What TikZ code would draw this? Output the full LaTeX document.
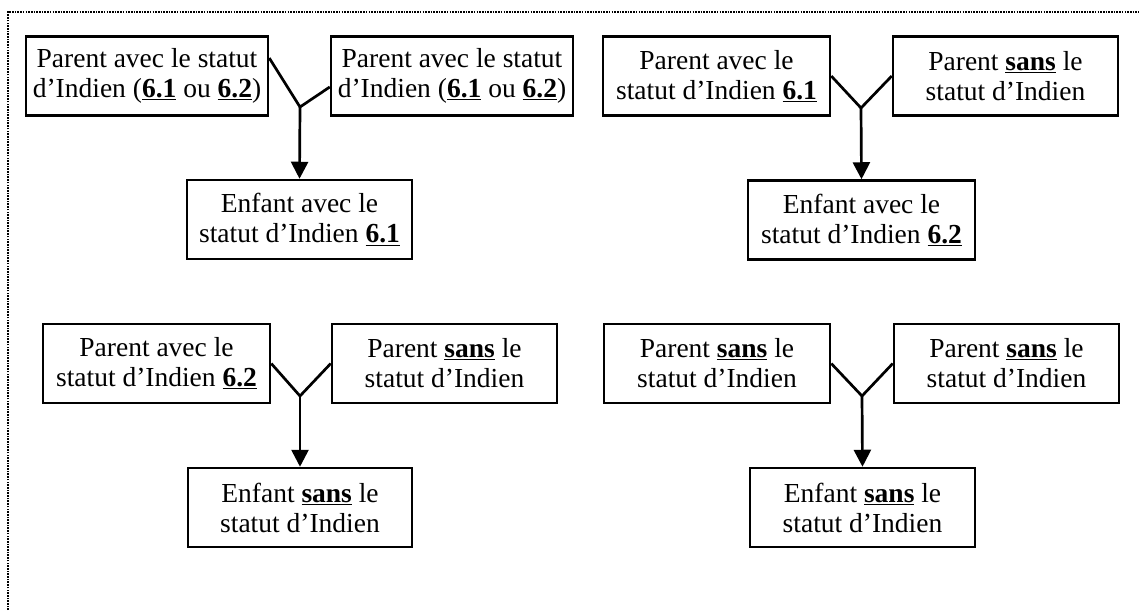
\documentclass[tikz,border=0pt]{standalone}
\usepackage{fontspec}
\setmainfont{Liberation Serif}
\usetikzlibrary{arrows.meta}
\newcommand{\ubold}[1]{\underline{\textbf{#1}}}
\begin{document}
\begin{tikzpicture}[x=1pt,y=-1pt,
  box/.style={draw, line width=2.5pt, inner sep=0pt, align=center,
    font=\fontsize{27.5}{30}\selectfont, minimum height=79pt},
  fork/.style={line width=2.7pt},
  descent/.style={line width=2.7pt, -{Triangle[length=17pt,width=17pt]}},
  frame/.style={line width=2.6pt, dash pattern=on 1.6pt off 1.1pt}]
\useasboundingbox (0,0) rectangle (1139,610);

% dotted frame (top and left edges)
\draw[frame] (8,610) -- (8,12) -- (1139,12);

% --- group A ---
\node[box, minimum width=242pt] (a1) at (147,76)
  {Parent avec le statut\\d’Indien (\ubold{6.1} ou \ubold{6.2})};
\node[box, minimum width=242pt] (a2) at (452,76)
  {Parent avec le statut\\d’Indien (\ubold{6.1} ou \ubold{6.2})};
\node[box, minimum width=225pt] (a3) at (299.5,219.5)
  {Enfant avec le\\statut d’Indien \ubold{6.1}};
\coordinate (ja) at (300,107);
\draw[fork] ([yshift=18pt]a1.east) -- (ja) -- ([yshift=-11pt]a2.west);
\draw[descent] (ja) -- (a3.north);

% --- group B ---
\node[box, minimum width=227pt] (b1) at (716.5,76)
  {Parent avec le\\statut d’Indien \ubold{6.1}};
\node[box, minimum width=225pt] (b2) at (1005.5,76)
  {Parent \ubold{sans} le\\statut d’Indien};
\node[box, minimum width=227pt] (b3) at (861.5,220)
  {Enfant avec le\\statut d’Indien \ubold{6.2}};
\coordinate (jb) at (861,108);
\draw[fork] (b1.east) -- (jb) -- (b2.west);
\draw[descent] (jb) -- (b3.north);

% --- group C ---
\node[box, minimum width=227pt] (c1) at (156.5,363.5)
  {Parent avec le\\statut d’Indien \ubold{6.2}};
\node[box, minimum width=225pt] (c2) at (444.5,363.5)
  {Parent \ubold{sans} le\\statut d’Indien};
\node[box, minimum width=224pt] (c3) at (300,507.5)
  {Enfant \ubold{sans} le\\statut d’Indien};
\coordinate (jc) at (300,396);
\draw[fork] (c1.east) -- (jc) -- (c2.west);
\draw[descent] (jc) -- (c3.north);

% --- group D ---
\node[box, minimum width=226pt] (d1) at (717,363.5)
  {Parent \ubold{sans} le\\statut d’Indien};
\node[box, minimum width=225pt] (d2) at (1006.5,363.5)
  {Parent \ubold{sans} le\\statut d’Indien};
\node[box, minimum width=225pt] (d3) at (862.5,507.5)
  {Enfant \ubold{sans} le\\statut d’Indien};
\coordinate (jd) at (862,396);
\draw[fork] (d1.east) -- (jd) -- (d2.west);
\draw[descent] (jd) -- (d3.north);
\end{tikzpicture}
\end{document}
